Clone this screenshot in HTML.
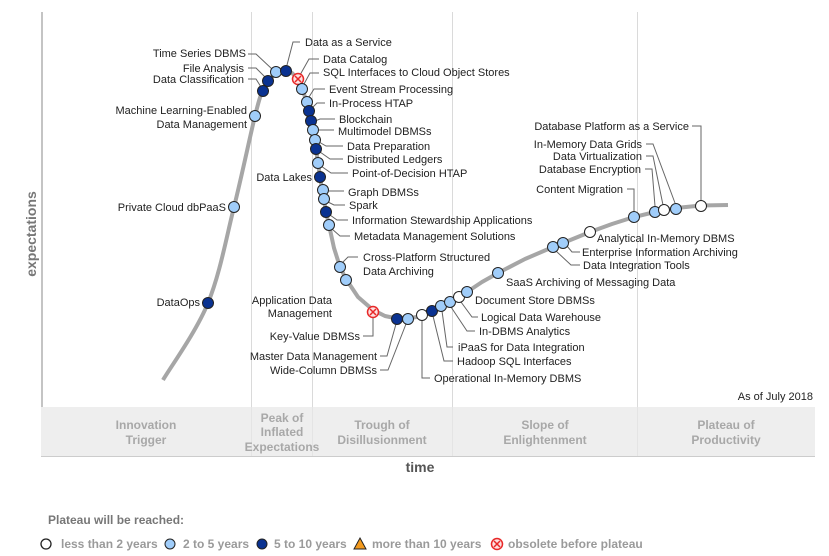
<!DOCTYPE html>
<html><head><meta charset="utf-8"><style>
html,body{margin:0;padding:0;background:#fff;}
svg{display:block;font-family:"Liberation Sans",Arial,sans-serif;}
.l{font-size:11px;fill:#222;}
.e{text-anchor:end;}
.ld{fill:none;stroke:#666;stroke-width:1;}
.b{font-size:12px;font-weight:bold;fill:#a8a8a8;text-anchor:middle;}
.g{fill:#a0cdfa;stroke:#222;stroke-width:1;}
.d{fill:#0a3291;stroke:#222;stroke-width:1;}
.w{fill:#fff;stroke:#222;stroke-width:1;}
.lg{font-size:12px;font-weight:bold;fill:#9a9a9a;}
</style></head><body>
<svg width="829" height="556" viewBox="0 0 829 556" xmlns="http://www.w3.org/2000/svg">
<defs>
<g id="obs"><circle r="5.5" fill="#fde0e0" stroke="#e82828" stroke-width="1.5"/><path d="M-3,-3L3,3M3,-3L-3,3" stroke="#e82828" stroke-width="1.5"/></g>
</defs>
<!-- grid -->
<g stroke="#dadada" stroke-width="1">
<line x1="251.5" y1="12" x2="251.5" y2="407"/>
<line x1="312.5" y1="12" x2="312.5" y2="407"/>
<line x1="452.5" y1="12" x2="452.5" y2="407"/>
<line x1="637.5" y1="12" x2="637.5" y2="407"/>
</g>
<line x1="42" y1="12" x2="42" y2="408" stroke="#c4c4c4" stroke-width="2"/>
<!-- band -->
<rect x="41" y="407" width="774" height="49" fill="#eeeeee"/>
<line x1="41" y1="456.5" x2="815" y2="456.5" stroke="#cccccc" stroke-width="1"/>
<g stroke="#e4e4e4" stroke-width="1">
<line x1="251.5" y1="407" x2="251.5" y2="456"/>
<line x1="312.5" y1="407" x2="312.5" y2="456"/>
<line x1="452.5" y1="407" x2="452.5" y2="456"/>
<line x1="637.5" y1="407" x2="637.5" y2="456"/>
</g>
<text class="b" x="146" y="429">Innovation</text>
<text class="b" x="146" y="444">Trigger</text>
<text class="b" x="282" y="422">Peak of</text>
<text class="b" x="282" y="436">Inflated</text>
<text class="b" x="282" y="451">Expectations</text>
<text class="b" x="382" y="429">Trough of</text>
<text class="b" x="382" y="444">Disillusionment</text>
<text class="b" x="545" y="429">Slope of</text>
<text class="b" x="545" y="444">Enlightenment</text>
<text class="b" x="726" y="429">Plateau of</text>
<text class="b" x="726" y="444">Productivity</text>
<text x="813" y="400" font-size="11" fill="#222" text-anchor="end">As of July 2018</text>
<text x="420" y="472" font-size="14" font-weight="bold" fill="#555" text-anchor="middle">time</text>
<text transform="translate(36,234) rotate(-90)" font-size="14" font-weight="bold" fill="#777" text-anchor="middle">expectations</text>
<!-- curve -->
<path fill="none" stroke="#a6a6a6" stroke-width="4" stroke-linejoin="round"
d="M163,380 C170.5,367.2 196.2,331.8 208,303 C219.8,274.2 226.2,238.2 234,207 C241.8,175.8 250.2,135.3 255,116 C259.8,96.7 261,94 263,91 L268,81 L276,73 L286,70 L292,73 L298,79 L302,89 L307,102 L310,115 L313,130 L316,149 L318,163 L320,177 L323,195 L326,212 L329,225 L334,248 L340,267 L346,279 L358,297 L373,310 L385,316 L397,318.5 L408,318.5 L422,316 L432,311 L441,306 L450,302 L459,297 L467,292 L482,282 L498,273 L525,259 L553,247 L563,243 L590,232 L612,224 L634,217 L655,212 L676,208 L701,205.5 L728,205"/>
<!-- leaders -->
<g class="ld">
<path d="M248,54H256L272,69"/>
<path d="M248,68H256L266,78"/>
<path d="M248,79H256L261,87"/>
<path d="M287,65L293,42H300"/>
<path d="M300,75L309,59H319"/>
<path d="M304,84L310,73H319"/>
<path d="M309,97L314,89H325"/>
<path d="M313,107L317,103H325"/>
<path d="M315,121L320,119H335"/>
<path d="M318,130H334"/>
<path d="M319,142L326,146H343"/>
<path d="M320,152L330,159H343"/>
<path d="M321,166L331,173H348"/>
<path d="M328,191H344"/>
<path d="M328,202L334,205H345"/>
<path d="M330,215L337,220H348"/>
<path d="M332,229L340,236H350"/>
<path d="M343,262L348,257H358"/>
<path d="M363,336H373V318"/>
<path d="M380,356H387L396,324"/>
<path d="M380,370H388L406,324"/>
<path d="M422,320V378H430"/>
<path d="M433,316L444,361H453"/>
<path d="M442,311L447,347H453"/>
<path d="M451,307L467,331H475"/>
<path d="M461,302L472,317H478"/>
<path d="M556,251L571,265H580"/>
<path d="M567,246L572,252H580"/>
<path d="M627,189H634V211"/>
<path d="M645,169H652L655,206"/>
<path d="M646,156H653L663,205"/>
<path d="M646,144H653L675,203"/>
<path d="M692,126H701V200"/>
</g>
<!-- points -->
<circle class="d" cx="208" cy="303" r="5.5"/>
<circle class="g" cx="234" cy="207" r="5.5"/>
<circle class="g" cx="255" cy="116" r="5.5"/>
<circle class="d" cx="263" cy="91" r="5.5"/>
<circle class="d" cx="268" cy="81" r="5.5"/>
<circle class="g" cx="276" cy="72" r="5.5"/>
<circle class="d" cx="286" cy="71" r="5.5"/>
<use href="#obs" x="298" y="79"/>
<circle class="g" cx="302" cy="89" r="5.5"/>
<circle class="g" cx="307" cy="102" r="5.5"/>
<circle class="d" cx="309" cy="111" r="5.5"/>
<circle class="d" cx="311" cy="121" r="5.5"/>
<circle class="g" cx="313" cy="130" r="5.5"/>
<circle class="g" cx="315" cy="140" r="5.5"/>
<circle class="d" cx="316" cy="149" r="5.5"/>
<circle class="g" cx="318" cy="163" r="5.5"/>
<circle class="d" cx="320" cy="177" r="5.5"/>
<circle class="g" cx="323" cy="190" r="5.5"/>
<circle class="g" cx="324" cy="199" r="5.5"/>
<circle class="d" cx="326" cy="212" r="5.5"/>
<circle class="g" cx="329" cy="225" r="5.5"/>
<circle class="g" cx="340" cy="267" r="5.5"/>
<circle class="g" cx="346" cy="280" r="5.5"/>
<use href="#obs" x="373" y="312"/>
<circle class="d" cx="397" cy="319" r="5.5"/>
<circle class="g" cx="408" cy="319" r="5.5"/>
<circle class="w" cx="422" cy="315" r="5.5"/>
<circle class="d" cx="432" cy="311" r="5.5"/>
<circle class="g" cx="441" cy="306" r="5.5"/>
<circle class="g" cx="450" cy="302" r="5.5"/>
<circle class="w" cx="459" cy="297" r="5.5"/>
<circle class="g" cx="467" cy="292" r="5.5"/>
<circle class="g" cx="498" cy="273" r="5.5"/>
<circle class="g" cx="553" cy="247" r="5.5"/>
<circle class="g" cx="563" cy="243" r="5.5"/>
<circle class="w" cx="590" cy="232" r="5.5"/>
<circle class="g" cx="634" cy="217" r="5.5"/>
<circle class="g" cx="655" cy="212" r="5.5"/>
<circle class="w" cx="664" cy="210" r="5.5"/>
<circle class="g" cx="676" cy="209" r="5.5"/>
<circle class="w" cx="701" cy="206" r="5.5"/>
<!-- labels -->
<g class="l">
<text class="e" x="246" y="57">Time Series DBMS</text>
<text class="e" x="244" y="72">File Analysis</text>
<text class="e" x="244" y="83">Data Classification</text>
<text class="e" x="247" y="114">Machine Learning-Enabled</text>
<text class="e" x="247" y="128">Data Management</text>
<text class="e" x="226" y="211">Private Cloud dbPaaS</text>
<text class="e" x="200" y="306">DataOps</text>
<text class="e" x="312" y="181">Data Lakes</text>
<text class="e" x="332" y="304">Application Data</text>
<text class="e" x="332" y="317">Management</text>
<text class="e" x="360" y="340">Key-Value DBMSs</text>
<text class="e" x="377" y="360">Master Data Management</text>
<text class="e" x="377" y="374">Wide-Column DBMSs</text>
<text x="305" y="46">Data as a Service</text>
<text x="323" y="63">Data Catalog</text>
<text x="323" y="76">SQL Interfaces to Cloud Object Stores</text>
<text x="329" y="93">Event Stream Processing</text>
<text x="329" y="107">In-Process HTAP</text>
<text x="339" y="123">Blockchain</text>
<text x="338" y="135">Multimodel DBMSs</text>
<text x="347" y="150">Data Preparation</text>
<text x="347" y="163">Distributed Ledgers</text>
<text x="352" y="177">Point-of-Decision HTAP</text>
<text x="348" y="196">Graph DBMSs</text>
<text x="349" y="209">Spark</text>
<text x="352" y="224">Information Stewardship Applications</text>
<text x="354" y="240">Metadata Management Solutions</text>
<text x="363" y="261">Cross-Platform Structured</text>
<text x="363" y="275">Data Archiving</text>
<text x="434" y="382">Operational In-Memory DBMS</text>
<text x="457" y="365">Hadoop SQL Interfaces</text>
<text x="458" y="351">iPaaS for Data Integration</text>
<text x="479" y="335">In-DBMS Analytics</text>
<text x="481" y="321">Logical Data Warehouse</text>
<text x="475" y="304">Document Store DBMSs</text>
<text x="506" y="286">SaaS Archiving of Messaging Data</text>
<text x="583" y="269">Data Integration Tools</text>
<text x="582" y="256">Enterprise Information Archiving</text>
<text x="597" y="242">Analytical In-Memory DBMS</text>
<text class="e" x="623" y="193">Content Migration</text>
<text class="e" x="641" y="173">Database Encryption</text>
<text class="e" x="642" y="160">Data Virtualization</text>
<text class="e" x="642" y="148">In-Memory Data Grids</text>
<text class="e" x="689" y="130">Database Platform as a Service</text>
</g>
<!-- legend -->
<text x="48" y="524" font-size="12" font-weight="bold" fill="#777">Plateau will be reached:</text>
<circle cx="46" cy="544" r="5" fill="#fff" stroke="#222" stroke-width="1.3"/>
<text class="lg" x="61" y="548">less than 2 years</text>
<circle cx="170" cy="544" r="5" class="g"/>
<text class="lg" x="183" y="548">2 to 5 years</text>
<circle cx="262" cy="544" r="5" class="d"/>
<text class="lg" x="274" y="548">5 to 10 years</text>
<path d="M360,538L366,549H354Z" fill="#f39a1e" stroke="#222" stroke-width="1"/>
<text class="lg" x="372" y="548">more than 10 years</text>
<use href="#obs" x="497" y="544"/>
<text class="lg" x="508" y="548">obsolete before plateau</text>
</svg>
</body></html>
